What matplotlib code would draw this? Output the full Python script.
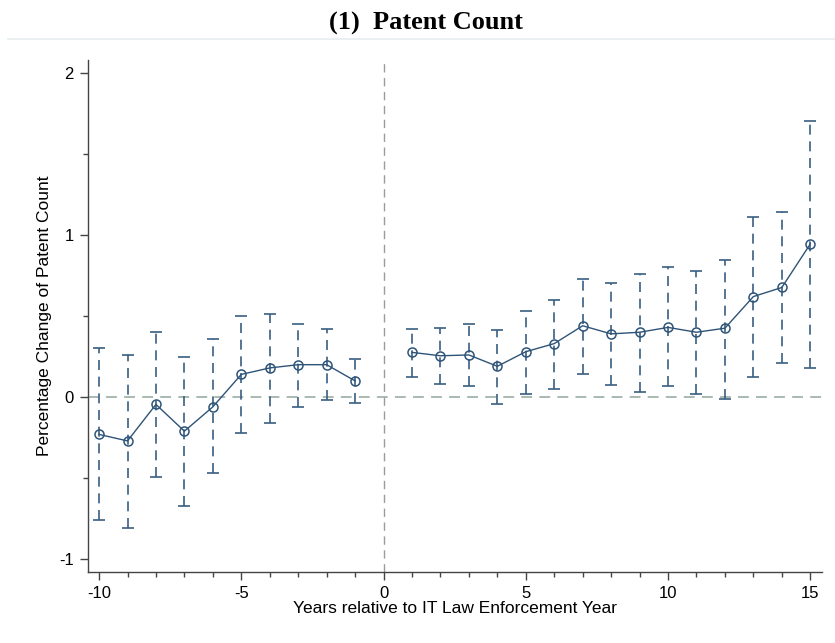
import numpy as np
import matplotlib
matplotlib.use("Agg")
import matplotlib.pyplot as plt
from matplotlib.ticker import MultipleLocator

plt.rcParams["axes.unicode_minus"] = False

# event-time coefficients with 95% CI
years_pre = [-10, -9, -8, -7, -6, -5, -4, -3, -2, -1]
coef_pre = [-0.23, -0.27, -0.045, -0.21, -0.06, 0.14, 0.18, 0.20, 0.20, 0.10]
upper_pre = [0.30, 0.26, 0.40, 0.25, 0.36, 0.50, 0.51, 0.45, 0.42, 0.235]
lower_pre = [-0.76, -0.81, -0.49, -0.67, -0.47, -0.22, -0.16, -0.06, -0.02, -0.035]

years_post = [1, 2, 3, 4, 5, 6, 7, 8, 9, 10, 11, 12, 13, 14, 15]
coef_post = [0.276, 0.255, 0.26, 0.19, 0.28, 0.33, 0.44, 0.39, 0.40, 0.43,
             0.40, 0.425, 0.62, 0.676, 0.944]
upper_post = [0.42, 0.427, 0.45, 0.414, 0.534, 0.60, 0.73, 0.705, 0.76, 0.80,
              0.775, 0.847, 1.11, 1.14, 1.70]
lower_post = [0.124, 0.08, 0.066, -0.04, 0.017, 0.05, 0.14, 0.074, 0.033, 0.066,
              0.017, -0.014, 0.124, 0.21, 0.18]

line_col = "#2e5478"
bar_col = "#3a5f82"
font = "Liberation Sans"

fig = plt.figure(figsize=(8.35, 6.43), dpi=100)
ax = fig.add_axes([0.105, 0.110, 0.879, 0.797])

ax.axhline(0, color="#a3b3ab", lw=1.3, ls=(0, (6, 4)), zorder=1)
ax.axvline(0, color="#999c99", lw=1.0, ls=(0, (6, 4)), zorder=1)

for yrs, c, up, lo in [(years_pre, coef_pre, upper_pre, lower_pre),
                       (years_post, coef_post, upper_post, lower_post)]:
    yrs = np.array(yrs)
    c = np.array(c)
    err = [c - np.array(lo), np.array(up) - c]
    eb = ax.errorbar(yrs, c, yerr=err, fmt="none", ecolor=bar_col,
                     elinewidth=1.2, capsize=4.5, capthick=1.2, zorder=2)
    eb[2][0].set_linestyle((0, (6, 4)))
    ax.plot(yrs, c, color=line_col, lw=1.0, marker="o", ms=6.5,
            mfc="none", mec=line_col, mew=1.1, zorder=3)

ax.set_xlim(-10.4, 15.4)
ax.set_ylim(-1.08, 2.08)
ax.xaxis.set_major_locator(MultipleLocator(5))
ax.xaxis.set_minor_locator(MultipleLocator(1))
ax.yaxis.set_major_locator(MultipleLocator(1))
ax.yaxis.set_minor_locator(MultipleLocator(0.5))

for s in ["top", "right"]:
    ax.spines[s].set_visible(False)
for s in ["left", "bottom"]:
    ax.spines[s].set_color("#444444")
    ax.spines[s].set_linewidth(1.0)

ax.tick_params(which="major", direction="out", length=6, width=1, color="#444444",
               labelsize=12, pad=4)
ax.tick_params(which="minor", direction="out", length=3.5, width=1, color="#444444")
for lab in ax.get_xticklabels() + ax.get_yticklabels():
    lab.set_family(font)

ax.set_xlabel("Years relative to IT Law Enforcement Year", fontsize=12.5,
              family=font, labelpad=0)
ax.set_ylabel("Percentage Change of Patent Count", fontsize=12.5,
              family=font, labelpad=5)

fig.text(0.51, 0.964, "(1)  Patent Count", ha="center", va="center",
         fontsize=19, fontweight="bold", family="Liberation Serif")
fig.add_artist(plt.Line2D([0.01, 1.0], [0.94, 0.94], color="#e6ecf0", lw=1.2))

fig.savefig("out.png", dpi=100)
